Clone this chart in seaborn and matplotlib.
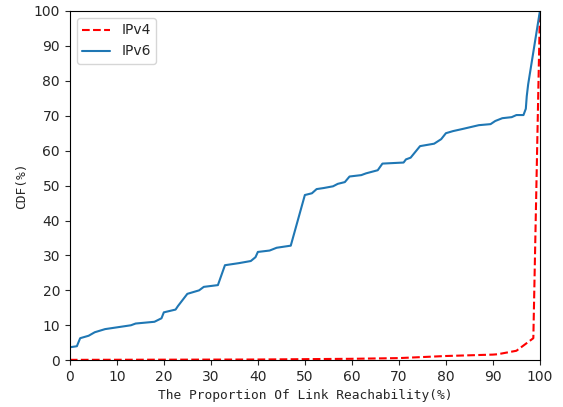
import matplotlib
matplotlib.use("Agg")
import matplotlib.pyplot as plt
import seaborn as sns
import pandas as pd

ipv6_x = [0, 1.5, 2.2, 4, 5.3, 7.5, 13, 14, 18, 19.5, 20, 22.5, 23, 25, 27.5, 28.5, 31.5, 33,
          36, 38.5, 39.5, 40, 42.5, 44, 47, 50, 51.5, 52.5, 54, 56, 57, 58.5, 59.5, 62, 63,
          65.5, 66.5, 71, 71.5, 72.5, 74.5, 77.5, 79, 80, 81.5, 83.5, 87, 89.5, 90.5, 92, 94,
          95, 96.5, 97, 97.2, 97.5, 100]
ipv6_y = [3.7, 4.0, 6.3, 7.0, 8.0, 8.9, 10.0, 10.5, 11.0, 12.0, 13.7, 14.5, 15.5, 19.0, 20.0,
          21.0, 21.5, 27.2, 27.8, 28.4, 29.5, 31.0, 31.4, 32.2, 32.8, 47.3, 47.8, 49.0, 49.3,
          49.8, 50.5, 51.0, 52.6, 53.0, 53.5, 54.4, 56.3, 56.6, 57.5, 58.0, 61.3, 62.0, 63.3,
          65.0, 65.6, 66.2, 67.3, 67.6, 68.5, 69.3, 69.6, 70.2, 70.2, 72.0, 75.6, 79.0, 100]

ipv4_x = [0, 20, 40, 60, 70, 80, 90, 91, 95, 98.6, 100]
ipv4_y = [0.1, 0.15, 0.2, 0.4, 0.6, 1.2, 1.6, 1.7, 2.7, 6.3, 100]

series_names = ["IPv4", "IPv6"]

df = pd.concat([
    pd.DataFrame({"x": ipv4_x, "y": ipv4_y, "proto": series_names[0]}),
    pd.DataFrame({"x": ipv6_x, "y": ipv6_y, "proto": series_names[1]}),
])

sns.set_style("ticks")
plt.rcParams["font.family"] = ["DejaVu Sans"]

fig = plt.figure(figsize=(5.63, 4.07), dpi=100)
ax = fig.add_axes([0.124, 0.115, 0.835, 0.858])

sns.lineplot(data=df, x="x", y="y", hue="proto", style="proto",
             palette={"IPv4": "red", "IPv6": "#1f77b4"},
             dashes={"IPv4": (3.7, 1.6), "IPv6": ""},
             sort=False, estimator=None, linewidth=1.5, ax=ax)

ax.set_xlim(0, 100)
ax.set_ylim(0, 100)
ax.set_xticks(range(0, 101, 10))
ax.set_yticks(range(0, 101, 10))
ax.tick_params(labelsize=10, direction="out", length=3.5, width=0.8)
for s in ax.spines.values():
    s.set_linewidth(0.8)
    s.set_color("black")

ax.set_xlabel("The Proportion Of Link Reachability(%)", fontsize=9.3,
              family=["DejaVu Sans Mono"])
ax.set_ylabel("CDF(%)", fontsize=9.3, family=["DejaVu Sans Mono"])

leg = ax.legend(loc="upper left", fontsize=10, frameon=True, title=None)
leg.get_frame().set_edgecolor("#cccccc")

fig.savefig("out.png", dpi=100)
